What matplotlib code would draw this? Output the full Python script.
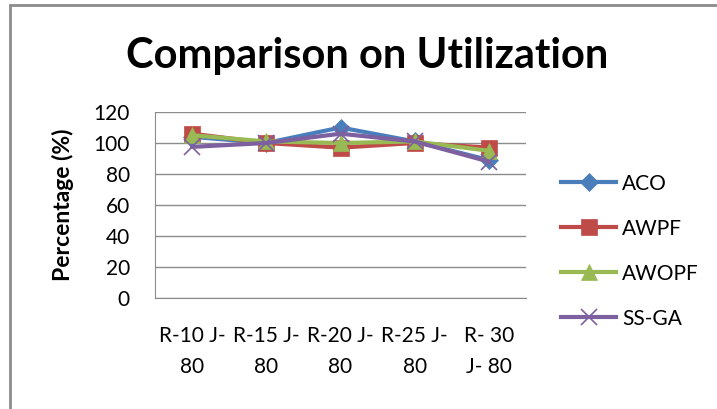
import matplotlib.pyplot as plt
from matplotlib.patches import Rectangle

categories = ["R-10 J-\n80", "R-15 J-\n80", "R-20 J-\n80", "R-25 J-\n80", "R- 30\nJ- 80"]
aco = [104, 100, 110, 101, 89]
awpf = [106, 100, 97, 100, 97]
awopf = [105, 101, 100, 101, 95]
ssga = [97.5, 100, 106, 101, 88]

series = [
    ("ACO", aco, "#4a7ebb", "D", 9),
    ("AWPF", awpf, "#be4b48", "s", 11),
    ("AWOPF", awopf, "#98b954", "^", 11),
    ("SS-GA", ssga, "#7d60a0", "x", 11),
]

plt.rcParams["font.family"] = ["Lato", "DejaVu Sans"]

fig = plt.figure(figsize=(7.17, 4.09), dpi=100)
ax = fig.add_axes([155 / 717, 111 / 409, 371 / 717, 186 / 409])

x = range(len(categories))
for name, vals, color, marker, ms in series:
    ax.plot(x, vals, color=color, lw=3, marker=marker, ms=ms,
            markeredgecolor=color, markeredgewidth=1.2 if marker == "x" else 0.5,
            label=name, solid_joinstyle="round")

ax.set_xlim(-0.5, 4.5)
ax.set_ylim(0, 120)
ax.set_yticks(range(0, 121, 20))
ax.set_xticks(list(x))
ax.set_xticklabels(categories, fontsize=15, linespacing=1.7)
ax.tick_params(axis="y", labelsize=15, length=0, pad=18)
ax.tick_params(axis="x", length=0, pad=20)
ax.grid(axis="y", color="#8c8c8c", lw=1)
ax.set_axisbelow(True)
for s in ["top", "right"]:
    ax.spines[s].set_visible(False)
ax.spines["left"].set_color("#8c8c8c")
ax.spines["bottom"].set_color("#8c8c8c")

ax.set_ylabel("Percentage (%)", fontsize=16.5, fontweight="bold", labelpad=14)

fig.text(367 / 717, 1 - 56 / 409, "Comparison on Utilization", fontsize=30,
         fontweight="bold", ha="center", va="center")

ax.legend(loc="upper left", bbox_to_anchor=(1.045, 0.77), frameon=False,
          fontsize=15, handlelength=2.6, labelspacing=1.2, handletextpad=0.3)

# outer chart frame
fig.patches.append(Rectangle((10 / 717, -0.1), 1.1, 1 - 5 / 409 + 0.1,
                             transform=fig.transFigure, fill=False,
                             edgecolor="#8c8c8c", lw=2))

fig.savefig("out.png", dpi=100)
